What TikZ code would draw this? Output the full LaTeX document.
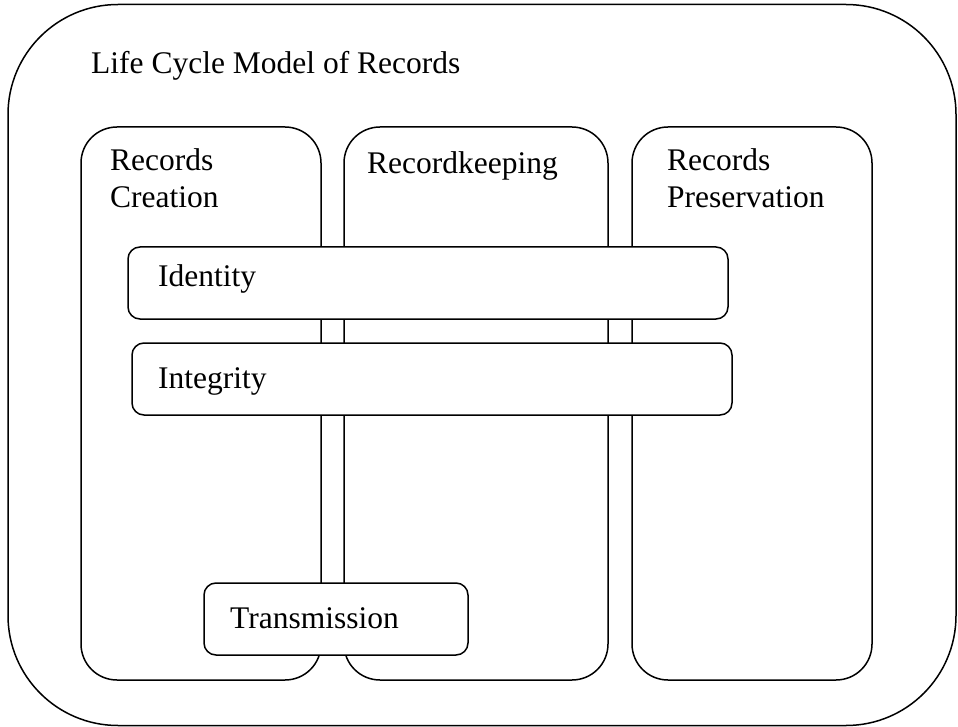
\documentclass[tikz,border=0pt]{standalone}
\usepackage{fontspec}
\setmainfont{Liberation Serif}
\begin{document}
\begin{tikzpicture}[x=1pt,y=-1pt,
  frame/.style={draw=black,line width=1.5pt,fill=white,inner sep=0pt,rounded corners=#1},
  lbl/.style={anchor=base west,inner sep=0pt,font=\fontsize{31.5}{37}\selectfont,align=left}]
\useasboundingbox (0,0) rectangle (958,727);
% outer frame
\node[frame=110pt,minimum width=948pt,minimum height=721pt] (outer) at (482,365) {};
% columns
\node[frame=36pt,minimum width=240pt,minimum height=553pt] (c1) at (201,403.5) {};
\node[frame=36pt,minimum width=264pt,minimum height=553pt] (c2) at (476,403.5) {};
\node[frame=36pt,minimum width=240pt,minimum height=553pt] (c3) at (752,403.5) {};
% horizontal bars
\node[frame=12pt,minimum width=600pt,minimum height=72pt] (idb) at (428,283) {};
\node[frame=12pt,minimum width=600pt,minimum height=72pt] (inb) at (432,379) {};
\node[frame=12pt,minimum width=264pt,minimum height=72pt] (trb) at (336,619) {};
% labels
\node[lbl] (tmain) at (91,74) {Life Cycle Model of Records};
\node[lbl] (t1) at (110,208) {Records\\Creation};
\node[lbl] (t2) at (367,174) {Recordkeeping};
\node[lbl] (t3) at (667,208) {Records\\Preservation};
\node[lbl] (tid) at (158,287) {Identity};
\node[lbl] (tin) at (158,388) {Integrity};
\node[lbl] (ttr) at (230,628) {Transmission};
\end{tikzpicture}
\end{document}
